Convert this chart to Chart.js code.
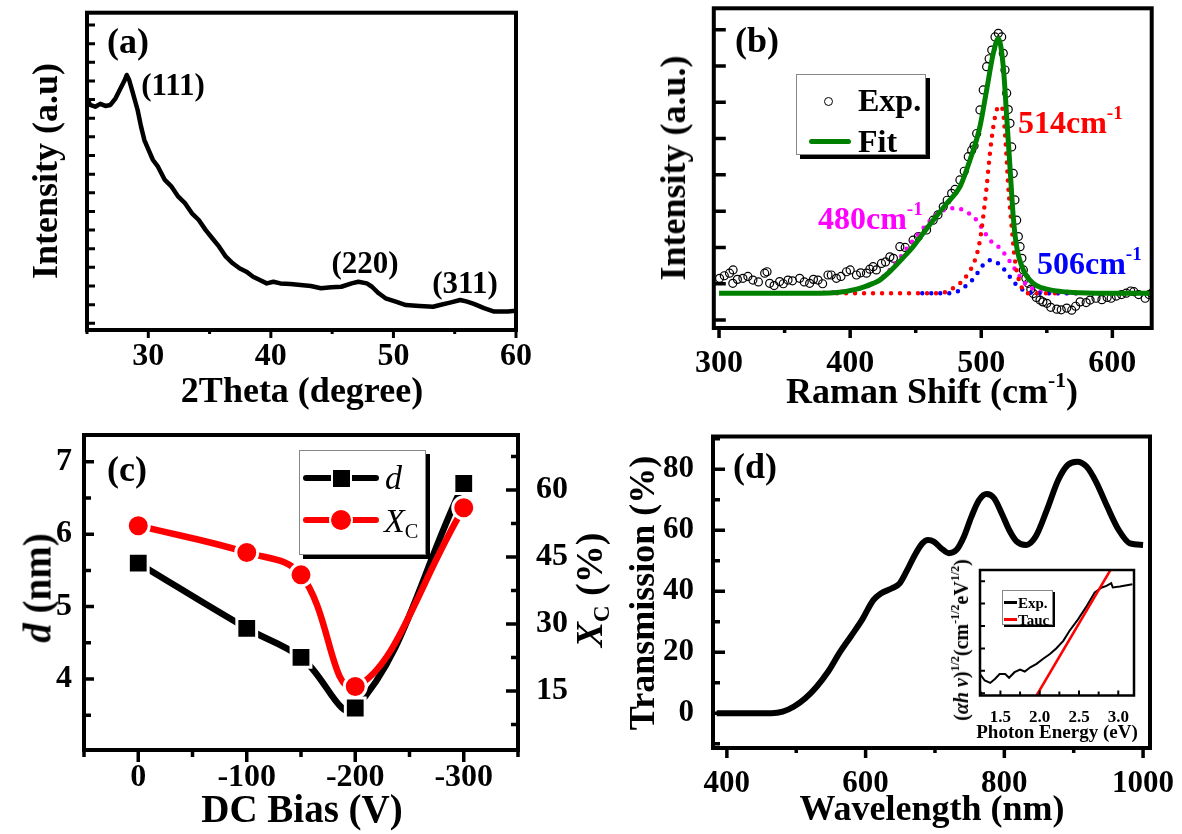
<!DOCTYPE html>
<html lang="en">
  <head>
    <meta charset="UTF-8" />
    <title>XRD, Raman, grain size and transmission</title>
    <style>
      body { margin: 0; background: #fff; }
      #fig {
        position: relative;
        width: 1182px;
        height: 834px;
        overflow: hidden;
        font-family: "Liberation Serif", "Times New Roman", serif;
        color: #000;
      }
      canvas { position: absolute; }
      .t {
        position: absolute;
        white-space: nowrap;
        line-height: 1;
        font-weight: bold;
        transform: translate(-50%, -50%);
      }
      .l { transform: translate(0, -50%); }
      .r90 { transform: translate(-50%, -50%) rotate(-90deg); }
      .sup { font-size: 0.6em; position: relative; top: -0.75em; }
      .sub { font-size: 0.6em; position: relative; top: 0.3em; }
      .box {
        position: absolute;
        background: #fff;
        border: 1px solid #888;
        box-sizing: border-box;
      }
      .seg { position: absolute; border-radius: 3px; }
    </style>
  </head>
  <body>
    <div id="fig">
      <canvas id="ca" width="591" height="417" style="left:0;top:0"></canvas>
      <canvas id="cb" width="591" height="417" style="left:591px;top:0"></canvas>
      <canvas id="cc" width="591" height="417" style="left:0;top:417px"></canvas>
      <canvas id="cd" width="591" height="417" style="left:591px;top:417px"></canvas>
      <canvas id="ci" width="200" height="180" style="left:940px;top:555px"></canvas>

      <!-- (a) -->
      <div class="t" style="left:128px;top:41px;font-size:36px">(a)</div>
      <div class="t" style="left:173px;top:84px;font-size:31px">(111)</div>
      <div class="t" style="left:365px;top:262px;font-size:31px">(220)</div>
      <div class="t" style="left:465px;top:282px;font-size:31px">(311)</div>
      <div class="t r90" style="left:45px;top:171px;font-size:36px">Intensity (a.u)</div>
      <div class="t" style="left:302px;top:390px;font-size:36px">2Theta (degree)</div>

      <!-- (b) -->
      <div class="t" style="left:757px;top:40px;font-size:36px">(b)</div>
      <div class="t l" style="left:1018px;top:122px;font-size:32px;color:#ff0000">514cm<span class="sup">-1</span></div>
      <div class="t l" style="left:818px;top:218px;font-size:32px;color:#ff00ff">480cm<span class="sup">-1</span></div>
      <div class="t l" style="left:1037px;top:263px;font-size:32px;color:#0000ff">506cm<span class="sup">-1</span></div>
      <div class="t r90" style="left:673px;top:168px;font-size:36px">Intensity (a.u.)</div>
      <div class="t" style="left:932px;top:391px;font-size:36px">Raman Shift (cm<span class="sup">-1</span>)</div>
      <div class="box" style="left:796px;top:74px;width:130px;height:81px;box-shadow:4px 4px 0 #000"></div>
      <div style="position:absolute;left:824px;top:97px;width:9px;height:9px;border:1.5px solid #000;border-radius:50%;box-sizing:border-box"></div>
      <div class="t l" style="left:858px;top:100px;font-size:32px">Exp.</div>
      <div class="seg" style="left:809px;top:139px;width:42px;height:5px;background:#008000"></div>
      <div class="t l" style="left:858px;top:141px;font-size:32px">Fit</div>

      <!-- (c) -->
      <div class="t" style="left:127px;top:469px;font-size:36px">(c)</div>
      <div class="t r90" style="left:37px;top:588px;font-size:39px"><i>d</i> (nm)</div>
      <div class="t r90" style="left:589px;top:590px;font-size:38px"><i>X</i><span class="sub">C</span> (%)</div>
      <div class="t" style="left:302px;top:808px;font-size:39px">DC Bias (V)</div>
      <div class="box" style="left:299px;top:450px;width:127px;height:105px;box-shadow:4px 4px 0 #000"></div>
      <div class="seg" style="left:303px;top:475px;width:76px;height:6px;background:#000"></div>
      <div style="position:absolute;left:333px;top:470px;width:17px;height:17px;background:#000;box-shadow:0 0 0 2px #fff"></div>
      <div class="t l" style="left:385px;top:478px;font-size:34px;font-weight:normal;font-style:italic">d</div>
      <div class="seg" style="left:303px;top:517px;width:76px;height:6px;background:#ff0000"></div>
      <div style="position:absolute;left:331px;top:510px;width:20px;height:20px;background:#ff0000;border-radius:50%;box-shadow:0 0 0 2px #fff"></div>
      <div class="t l" style="left:384px;top:521px;font-size:34px;font-weight:normal"><i>X</i><span class="sub">C</span></div>

      <!-- (d) -->
      <div class="t" style="left:755px;top:466px;font-size:36px">(d)</div>
      <div class="t r90" style="left:642px;top:593px;font-size:36px">Transmission (%)</div>
      <div class="t" style="left:932px;top:808px;font-size:36px">Wavelength (nm)</div>
      <div class="t" style="left:1057px;top:731px;font-size:19px">Photon Energy (eV)</div>
      <div class="t r90" style="left:961px;top:640px;font-size:20px">(<i>&alpha;h &nu;</i>)<span class="sup">1/2</span>(cm<span class="sup">-1/2</span>eV<span class="sup">1/2</span>)</div>
      <div class="box" style="left:1002px;top:590px;width:51px;height:35px;box-shadow:2px 2px 0 #000"></div>
      <div class="seg" style="left:1004px;top:601px;width:13px;height:3px;background:#000;border-radius:0"></div>
      <div class="t l" style="left:1018px;top:603px;font-size:15px">Exp.</div>
      <div class="seg" style="left:1004px;top:618px;width:13px;height:3px;background:#ff0000;border-radius:0"></div>
      <div class="t l" style="left:1018px;top:620px;font-size:15px">Tauc</div>
    </div>

    <script src="https://cdn.jsdelivr.net/npm/chart.js"></script>

    <script>
      // (a) XRD pattern, intensity in arbitrary units
      const xrdTheta = [25.0, 25.25, 25.67, 26.08, 26.5, 26.91, 27.33, 27.74, 28.08, 28.24, 28.44, 28.71, 29.13, 29.41, 29.68, 29.96, 30.38, 30.79, 31.35, 31.9, 32.45, 33.01, 33.56, 34.12, 34.67, 35.22, 35.78, 36.33, 36.89, 37.44, 38.0, 38.55, 39.1, 39.66, 40.21, 40.77, 41.6, 42.43, 43.26, 44.09, 44.92, 45.75, 46.59, 47.14, 47.83, 48.25, 48.8, 49.36, 50.19, 51.02, 52.13, 53.24, 53.79, 54.62, 55.45, 56.01, 56.56, 57.39, 58.22, 59.33, 60.0];
      const xrdInt = [12.07, 11.71, 11.62, 11.77, 11.66, 11.71, 12.07, 12.61, 13.05, 13.32, 13.05, 12.43, 11.44, 10.55, 9.83, 9.39, 8.76, 8.4, 7.69, 7.33, 6.79, 6.43, 5.9, 5.54, 5.01, 4.56, 4.11, 3.57, 3.22, 2.95, 2.77, 2.5, 2.32, 2.14, 2.23, 2.14, 2.11, 2.05, 2.0, 1.88, 1.93, 1.96, 2.14, 2.23, 2.14, 1.96, 1.61, 1.34, 1.16, 0.98, 0.93, 0.89, 0.98, 1.11, 1.25, 1.16, 1.04, 0.81, 0.63, 0.63, 0.68];

      // (b) Raman spectrum: measured points, fit and three components
      const ramanExpX = [300.4, 304, 308, 310.5, 310.7, 314, 318.2, 322, 325.8, 330, 334.8, 336.6, 338.6, 342, 346.2, 349, 352.6, 356, 361.5, 365, 369.1, 372, 375.5, 379, 383.1, 385.6, 389.5, 393, 397.2, 400, 404.8, 408, 412.5, 415, 417.5, 420, 423.9, 427, 430.3, 433, 437.9, 442, 448, 452, 458.3, 463.3, 467, 471, 474, 477.4, 480, 483.7, 487, 490.1, 492.7, 494.5, 496.5, 499, 501.5, 504.1, 506, 508, 510.5, 513, 515.6, 516.8, 518.1, 519.4, 520.6, 521.9, 523.2, 524.4, 525.7, 527, 528.3, 529.6, 531, 532.1, 534, 535.9, 537.8, 539.7, 542, 544.8, 547, 550, 553, 557.6, 561, 565.2, 569, 572, 575.4, 580, 583, 587.5, 592, 596, 599.1, 603, 607, 610.6, 614, 616.4, 620, 625, 628, 630];
      const ramanExpY = [1.15, 1.22, 1.29, 1.01, 1.38, 1.12, 1.15, 1.2, 1.1, 1.05, 1.29, 1.33, 1.01, 0.95, 1.06, 1.0, 1.1, 1.08, 1.15, 1.05, 1.01, 1.12, 1.1, 1.0, 1.24, 1.24, 1.15, 1.2, 1.33, 1.38, 1.24, 1.3, 1.29, 1.4, 1.47, 1.38, 1.56, 1.6, 1.74, 1.7, 2.02, 2.0, 2.2, 2.3, 2.48, 2.75, 2.9, 3.12, 3.3, 3.49, 3.6, 3.86, 4.1, 4.5, 4.68, 4.8, 5.14, 5.79, 6.34, 6.98, 7.2, 7.44, 7.8, 7.9, 7.8, 7.35, 6.89, 6.25, 5.8, 5.42, 4.77, 4.04, 3.31, 2.75, 2.3, 2.02, 1.7, 1.38, 1.15, 1.01, 0.85, 0.73, 0.62, 0.55, 0.5, 0.46, 0.35, 0.3, 0.28, 0.33, 0.27, 0.38, 0.5, 0.48, 0.55, 0.6, 0.56, 0.62, 0.6, 0.66, 0.7, 0.74, 0.8, 0.78, 0.7, 0.6, 0.7, 0.74];
      const ramanFitX = [300, 360, 390, 405, 417.5, 422.6, 431.5, 440, 448, 455.7, 464, 473.6, 483.7, 491.4, 499, 504.1, 509.2, 513, 516.8, 519.4, 521.9, 524.4, 527, 532.1, 539.7, 550, 565.2, 590, 630];
      const ramanFitY = [0.735, 0.735, 0.76, 0.85, 1.01, 1.1, 1.38, 1.7, 2.02, 2.39, 2.78, 3.21, 3.67, 4.41, 5.33, 6.34, 7.35, 7.76, 6.98, 5.6, 4.22, 2.85, 2.02, 1.38, 1.01, 0.85, 0.77, 0.74, 0.735];
      const peak514X = [390, 468.4, 476.1, 483.7, 490.1, 495.2, 499, 501.5, 504.1, 506.6, 509.2, 511.8, 514.3, 516.8, 518.1, 519.4, 520.6, 523.2, 525.7, 529.6, 535.9, 560];
      const peak514Y = [0.735, 0.735, 0.83, 1.01, 1.29, 1.65, 2.2, 2.85, 3.67, 4.59, 5.33, 5.79, 5.9, 5.69, 5.14, 4.41, 3.67, 2.57, 1.65, 1.01, 0.735, 0.735];
      const peak506X = [455, 473.6, 481.2, 488.8, 495.2, 500.3, 504.1, 508, 513, 516.8, 521.9, 527, 534.7, 544.8, 575];
      const peak506Y = [0.735, 0.735, 0.78, 0.96, 1.19, 1.47, 1.61, 1.65, 1.56, 1.42, 1.19, 0.96, 0.78, 0.735, 0.735];
      const peak480X = [380, 403, 420, 432, 446, 460, 468.4, 481.2, 488.8, 496.5, 501.5, 506.6, 514.3, 519.4, 524.4, 529.6, 534.7, 542.4, 550, 575];
      const peak480Y = [0.75, 0.83, 1.05, 1.45, 2.1, 2.7, 2.98, 3.08, 2.98, 2.75, 2.48, 2.2, 1.98, 1.74, 1.47, 1.19, 0.96, 0.83, 0.735, 0.735];

      // (c) grain size d (nm) and crystalline fraction Xc (%) against DC bias
      const biasV = [0, -100, -150, -200, -300];
      const grainD = [5.6, 4.7, 4.3, 3.6, 6.7];
      const crystXc = [52, 46, 41, 16, 56];

      // (d) transmission spectrum
      const waveNm = [385.3, 464, 480.5, 496.8, 513.1, 529.4, 545.8, 562.1, 578.4, 594.8, 611.1, 622, 638.4, 649.2, 660.1, 671, 681.8, 690, 698.2, 709, 720, 730.8, 741.7, 752.6, 763.5, 774.4, 785.3, 796.1, 807, 817.9, 831.5, 845.1, 861.4, 877.7, 891.4, 905, 918.5, 932.2, 948.5, 964.9, 981.2, 1000];
      const transPct = [0, 0, 0.5, 2.2, 4.9, 8.7, 13.6, 19.7, 25.1, 30.6, 37.1, 39.3, 41.0, 42.6, 47.0, 51.9, 55.7, 56.8, 56.3, 54.1, 52.5, 53.5, 57.9, 64.5, 69.9, 71.9, 70.5, 65.6, 60.1, 56.3, 55.2, 57.9, 66.7, 76.5, 81.4, 82.5, 80.9, 75.9, 67.7, 60.1, 55.7, 55.2];

      // inset: Tauc plot
      const taucE = [1.24, 1.3, 1.37, 1.43, 1.49, 1.56, 1.61, 1.68, 1.75, 1.81, 1.88, 1.96, 2.04, 2.13, 2.21, 2.3, 2.38, 2.49, 2.6, 2.7, 2.79, 2.85, 2.91, 2.93, 3.02, 3.18];
      const taucY = [0.86, 0.57, 0.46, 0.64, 0.86, 0.86, 0.69, 0.94, 1.06, 0.97, 1.16, 1.31, 1.53, 1.75, 2.0, 2.34, 2.79, 3.31, 3.9, 4.5, 4.72, 4.79, 4.91, 4.72, 4.76, 4.86];
      const taucFitE = [1.96, 2.9];
      const taucFitY = [-0.1, 5.5];

      const serif = "'Liberation Serif', 'Times New Roman', serif";

      function isMajor(v, every) {
        const q = v / every;
        return Math.abs(q - Math.round(q)) < 1e-6;
      }

      function pts(xs, ys) {
        return xs.map((x, i) => ({ x: x, y: ys[i] }));
      }

      // box round the plot area, and tick marks pointing in or out
      const frameTicks = {
        id: "frameTicks",
        afterDatasetsDraw(chart, args, opts) {
          const ctx = chart.ctx;
          const a = chart.chartArea;
          ctx.save();
          ctx.strokeStyle = "#000";
          ctx.lineWidth = opts.frame;
          ctx.strokeRect(a.left, a.top, a.right - a.left, a.bottom - a.top);
          Object.values(chart.scales).forEach((s) => {
            const tk = s.options.tk;
            if (!tk) return;
            const dir = tk.side === "in" ? 1 : -1;
            ctx.lineWidth = tk.w;
            ctx.beginPath();
            s.ticks.forEach((t) => {
              const len = isMajor(t.value, tk.every) ? tk.major : tk.minor;
              const p = s.getPixelForValue(t.value);
              if (s.isHorizontal()) {
                ctx.moveTo(p, a.bottom);
                ctx.lineTo(p, a.bottom - dir * len);
              } else if (s.position === "left") {
                ctx.moveTo(a.left, p);
                ctx.lineTo(a.left + dir * len, p);
              } else {
                ctx.moveTo(a.right, p);
                ctx.lineTo(a.right - dir * len, p);
              }
            });
            ctx.stroke();
          });
          ctx.restore();
        },
      };

      function axis(o) {
        return {
          type: "linear",
          position: o.position,
          min: o.min,
          max: o.max,
          reverse: !!o.reverse,
          grid: { display: false },
          border: { display: false },
          ticks: {
            stepSize: o.step,
            includeBounds: false,
            autoSkip: false,
            maxRotation: 0,
            display: o.labels !== false,
            padding: o.pad || 0,
            color: "#000",
            font: { family: serif, weight: "bold", size: o.size || 32, lineHeight: 1 },
            callback: (v) => (isMajor(v, o.every) ? (o.fmt ? o.fmt(v) : String(v)) : ""),
          },
          tk: o.tk,
          afterFit: (s) => {
            if (s.isHorizontal()) {
              s.height = o.fix;
              s.paddingLeft = 0;
              s.paddingRight = 0;
            } else {
              s.width = o.fix;
              s.paddingTop = 0;
              s.paddingBottom = 0;
            }
          },
        };
      }

      function baseOptions(padding, frame, scales) {
        return {
          responsive: false,
          animation: false,
          events: [],
          layout: { padding: padding },
          plugins: {
            legend: { display: false },
            tooltip: { enabled: false },
            frameTicks: { frame: frame },
          },
          scales: scales,
        };
      }

      function line(data, color, width, extra) {
        return Object.assign(
          { data: data, showLine: true, borderColor: color, borderWidth: width, pointRadius: 0, tension: 0 },
          extra || {}
        );
      }

      // (a)
      new Chart(document.getElementById("ca"), {
        type: "scatter",
        data: { datasets: [line(pts(xrdTheta, xrdInt), "#000", 4.5, { borderJoinStyle: "round" })] },
        options: baseOptions({ left: 0, right: 75, top: 12.7, bottom: 0 }, 4, {
          x: axis({ position: "bottom", min: 25, max: 60, step: 5, every: 10, pad: 3, fix: 87,
            tk: { side: "out", major: 8, minor: 4, w: 3, every: 10 } }),
          y: axis({ position: "left", min: -0.36, max: 16.66, step: 1, every: 1, labels: false, fix: 87,
            tk: { side: "in", major: 8, minor: 8, w: 3, every: 1 } }),
        }),
        plugins: [frameTicks],
      });

      // (b)
      const dots = { borderCapStyle: "round", borderDash: [0, 9], cubicInterpolationMode: "monotone" };
      new Chart(document.getElementById("cb"), {
        type: "scatter",
        data: {
          datasets: [
            line(pts(ramanFitX, ramanFitY), "#008000", 5, { cubicInterpolationMode: "monotone" }),
            line(pts(peak514X, peak514Y), "#ff0000", 4.5, dots),
            line(pts(peak506X, peak506Y), "#0000ff", 4.5, dots),
            line(pts(peak480X, peak480Y), "#ff00ff", 4.5, dots),
            {
              data: pts(ramanExpX, ramanExpY),
              pointRadius: 4,
              pointBorderWidth: 1.2,
              pointBorderColor: "#000",
              pointBackgroundColor: "rgba(255,255,255,0)",
            },
          ],
        },
        options: baseOptions({ left: 0, right: 30.3, top: 8.3, bottom: 0 }, 4, {
          x: axis({ position: "bottom", min: 296, max: 630, step: 50, every: 100, pad: 12, fix: 89,
            tk: { side: "out", major: 10, minor: 5, w: 3.5, every: 100 } }),
          y: axis({ position: "left", min: -0.22, max: 8.59, step: 1, every: 1, labels: false, fix: 122.8,
            tk: { side: "in", major: 12, minor: 12, w: 3.5, every: 1 } }),
        }),
        plugins: [frameTicks],
      });

      // (c)
      new Chart(document.getElementById("cc"), {
        type: "scatter",
        data: {
          datasets: [
            line(pts(biasV, crystXc), "#ff0000", 6.5, {
              yAxisID: "y2",
              tension: 0.4,
              pointStyle: "circle",
              pointRadius: 11,
              pointBackgroundColor: "#ff0000",
              pointBorderColor: "#fff",
              pointBorderWidth: 3,
            }),
            line(pts(biasV, grainD), "#000", 6.5, {
              yAxisID: "y",
              tension: 0.4,
              pointStyle: "rect",
              pointRadius: 14,
              pointBackgroundColor: "#000",
              pointBorderColor: "#fff",
              pointBorderWidth: 3,
            }),
          ],
        },
        options: baseOptions({ left: 0, right: 0, top: 18, bottom: 0 }, 4, {
          x: axis({ position: "bottom", min: -350, max: 50, reverse: true, step: 50, every: 100, pad: 4, fix: 84,
            tk: { side: "out", major: 12, minor: 7, w: 3.5, every: 100 } }),
          y: axis({ position: "left", min: 3.02, max: 7.37, step: 0.5, every: 1, pad: 4, fix: 84,
            tk: { side: "in", major: 10, minor: 7, w: 3.5, every: 1 } }),
          y2: axis({ position: "right", min: 1.8, max: 72.3, step: 7.5, every: 15, pad: 10, fix: 73,
            tk: { side: "in", major: 12, minor: 7, w: 3.5, every: 15 } }),
        }),
        plugins: [frameTicks],
      });

      // (d)
      new Chart(document.getElementById("cd"), {
        type: "scatter",
        data: {
          datasets: [line(pts(waveNm, transPct), "#000", 6, { cubicInterpolationMode: "monotone" })],
        },
        options: baseOptions({ left: 0, right: 32, top: 19.5, bottom: 0 }, 4, {
          x: axis({ position: "bottom", min: 380, max: 1010, step: 100, every: 200, pad: 12, size: 31, fix: 86,
            tk: { side: "out", major: 10, minor: 5, w: 3.5, every: 200 } }),
          y: axis({ position: "left", min: -11.4, max: 90.75, step: 10, every: 20, pad: 11, size: 31, fix: 122,
            tk: { side: "in", major: 12, minor: 7, w: 3.5, every: 20 } }),
        }),
        plugins: [frameTicks],
      });

      // inset of (d)
      new Chart(document.getElementById("ci"), {
        type: "scatter",
        data: {
          datasets: [
            line(pts(taucFitE, taucFitY), "#ff0000", 2.5),
            line(pts(taucE, taucY), "#000", 2),
          ],
        },
        options: baseOptions({ left: 0, right: 6, top: 15, bottom: 0 }, 2.5, {
          x: axis({ position: "bottom", min: 1.24, max: 3.2, step: 0.25, every: 0.5, pad: 6, size: 17, fix: 39.5,
            fmt: (v) => v.toFixed(1),
            tk: { side: "in", major: 5, minor: 4, w: 2, every: 0.5 } }),
          y: axis({ position: "left", min: -0.1, max: 5.5, step: 1, every: 1, labels: false, fix: 40,
            tk: { side: "in", major: 5, minor: 5, w: 2, every: 1 } }),
        }),
        plugins: [frameTicks],
      });
    </script>
  </body>
</html>
